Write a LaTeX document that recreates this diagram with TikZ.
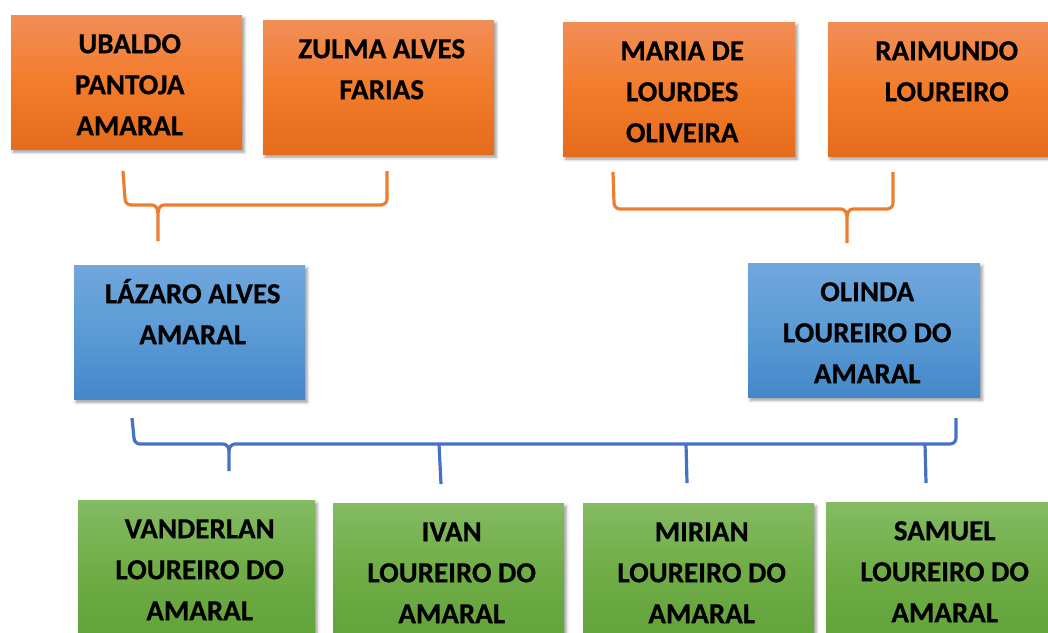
\documentclass[tikz,border=0pt]{standalone}
\usepackage{fontspec}
\setmainfont{Carlito}[BoldFeatures={FakeBold=0.6}]
\usetikzlibrary{shadows.blur}

\definecolor{laranjaA}{RGB}{241,142,87}
\definecolor{laranjaB}{RGB}{243,124,43}
\definecolor{laranjaC}{RGB}{228,108,28}
\definecolor{azulA}{RGB}{112,167,221}
\definecolor{azulB}{RGB}{91,155,213}
\definecolor{azulC}{RGB}{68,135,202}
\definecolor{verdeA}{RGB}{132,187,99}
\definecolor{verdeB}{RGB}{112,173,71}
\definecolor{verdeC}{RGB}{98,163,58}
\definecolor{chaveL}{RGB}{237,125,49}
\definecolor{chaveA}{RGB}{68,114,196}

\newcommand{\nome}[2][231pt]{\parbox[t][134pt][t]{#1}{\centering\leftskip=6pt plus 1fil\rule{0pt}{38pt}#2}}

\tikzset{
  pessoa/.style={rectangle, inner sep=0pt, anchor=north west,
    font=\fontsize{29}{41}\selectfont\bfseries,
    blur shadow={shadow xshift=2pt, shadow yshift=-3pt, shadow blur radius=3pt}},
  avos/.style={pessoa, top color=laranjaA, bottom color=laranjaC, middle color=laranjaB},
  pais/.style={pessoa, top color=azulA, bottom color=azulC, middle color=azulB},
  filhos/.style={pessoa, top color=verdeA, bottom color=verdeC, middle color=verdeB},
  chave/.style={line width=3.2pt, line join=round}
}

\begin{document}
\begin{tikzpicture}[x=1pt, y=-1pt]
  \useasboundingbox (0,0) rectangle (1048,632);

  \node[avos] (ubaldo) at (11,15) {\nome{UBALDO\\PANTOJA\\AMARAL}};
  \node[avos] (zulma) at (263,20) {\nome{ZULMA ALVES\\FARIAS}};
  \node[avos] (maria) at (563,22) {\nome[232pt]{MARIA DE\\LOURDES\\OLIVEIRA}};
  \node[avos] (raimundo) at (828,22) {\nome{RAIMUNDO\\LOUREIRO}};

  \node[pais] (lazaro) at (74,265) {\nome{LÁZARO ALVES\\AMARAL}};
  \node[pais] (olinda) at (748,263) {\nome[232pt]{OLINDA\\LOUREIRO DO\\AMARAL}};

  \node[filhos] (vanderlan) at (78,500) {\nome[237pt]{VANDERLAN\\LOUREIRO DO\\AMARAL}};
  \node[filhos] (ivan) at (333,503) {\nome{IVAN\\LOUREIRO DO\\AMARAL}};
  \node[filhos] (mirian) at (583,503) {\nome{MIRIAN\\LOUREIRO DO\\AMARAL}};
  \node[filhos] (samuel) at (826,502) {\nome{SAMUEL\\LOUREIRO DO\\AMARAL}};

  % chaves dos avos
  \draw[chave, chaveL] (123,171) -- (125,199) to[out=-90, in=180] (131,205) -- (152,205)
    to[out=0, in=90] (158,213) -- (158,241);
  \draw[chave, chaveL] (158,213) to[out=90, in=180] (164,205) -- (381,205)
    to[out=0, in=-90] (387,199) -- (387,171);

  \draw[chave, chaveL] (613,172) -- (614,203) to[out=-90, in=180] (620,209) -- (841,209)
    to[out=0, in=90] (847,217) -- (847,243);
  \draw[chave, chaveL] (847,217) to[out=90, in=180] (853,209) -- (887,209)
    to[out=0, in=-90] (893,203) -- (893,172);

  % chave dos pais
  \draw[chave, chaveA] (132,418) -- (134,438) to[out=-90, in=180] (140,444) -- (223,444)
    to[out=0, in=90] (229,451) -- (229,471);
  \draw[chave, chaveA] (229,451) to[out=90, in=180] (235,444) -- (950,444)
    to[out=0, in=-90] (956,438) -- (956,418);
  \draw[chave, chaveA] (439,444) -- (441,484);
  \draw[chave, chaveA] (686,444) -- (687,483);
  \draw[chave, chaveA] (925,444) -- (926,483);
\end{tikzpicture}
\end{document}
